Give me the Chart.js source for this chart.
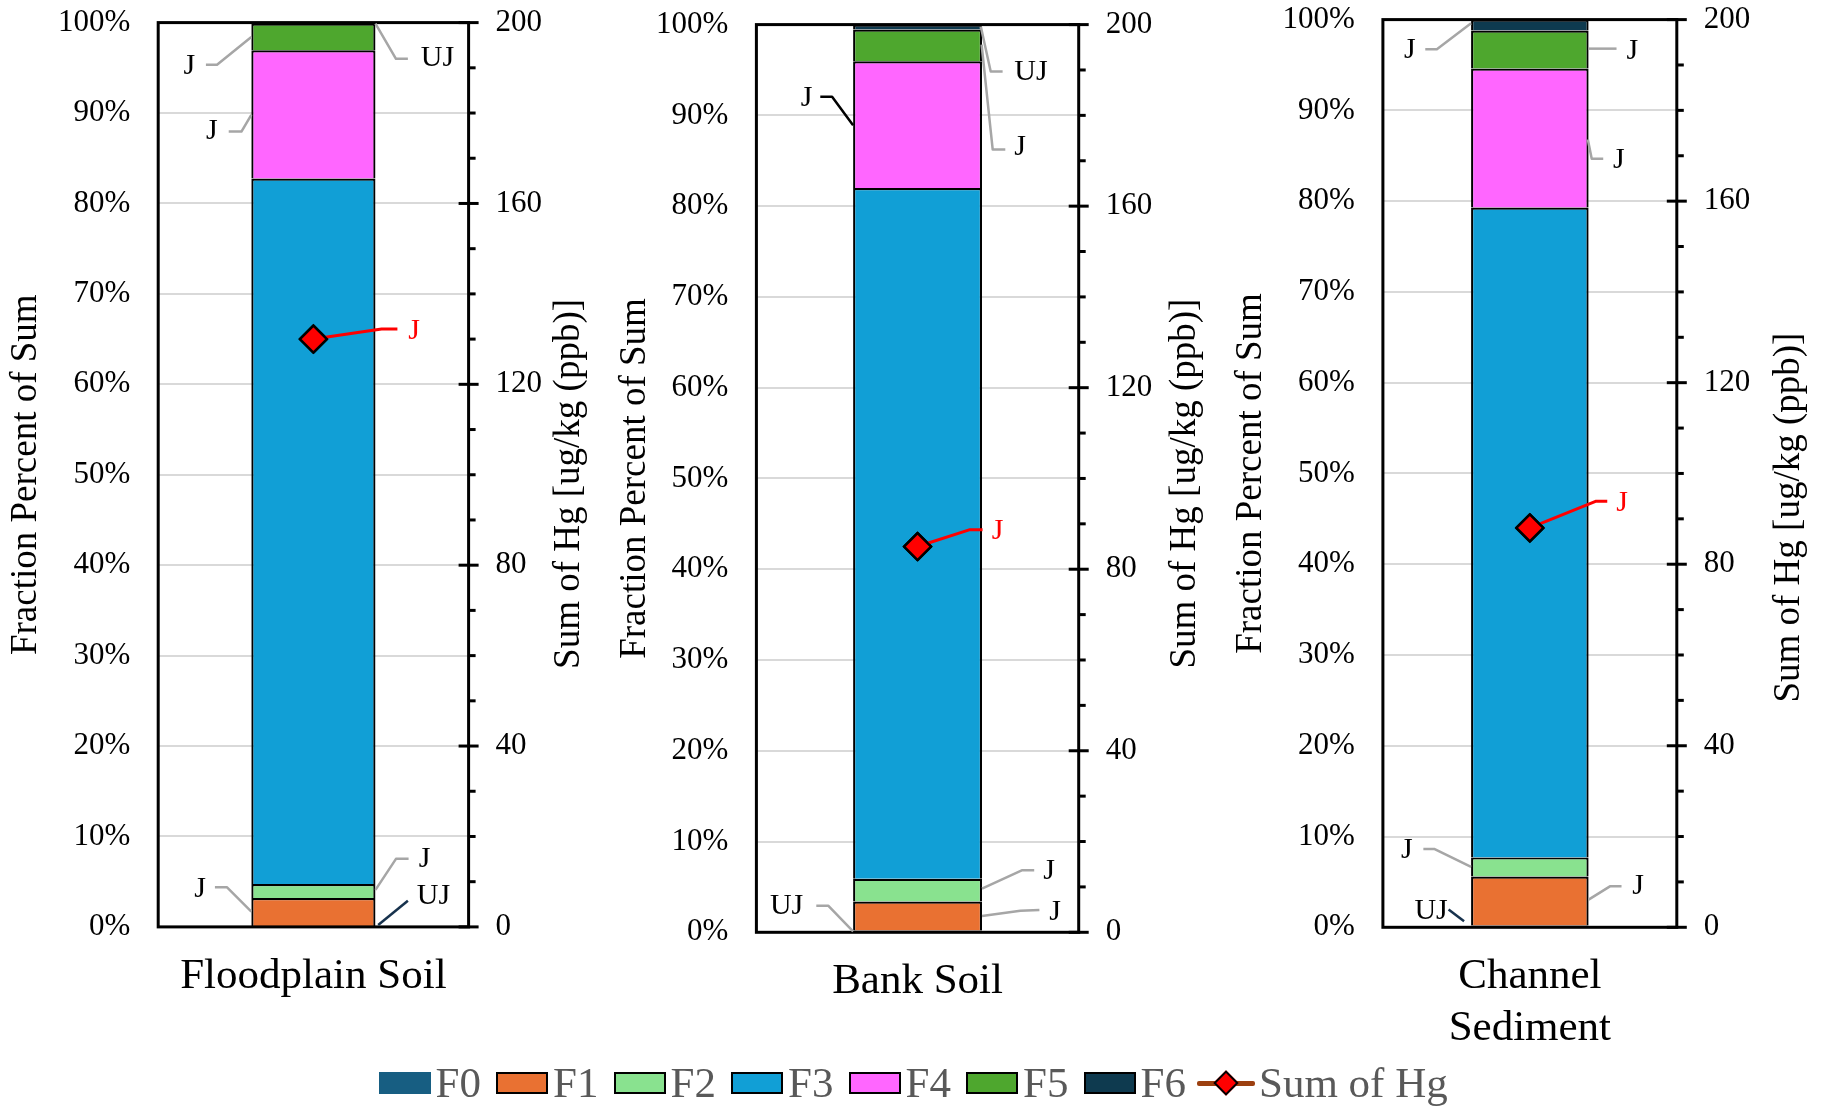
<!DOCTYPE html>
<html>
<head>
<meta charset="utf-8">
<script src="https://cdn.jsdelivr.net/npm/chart.js@4.4.1/dist/chart.umd.min.js"></script>
<style>
html,body{margin:0;padding:0;background:#fff;width:1828px;height:1111px;overflow:hidden;position:relative;}
canvas.panel{position:absolute;top:0;}
#legend{position:absolute;left:0;top:0;width:1828px;height:1111px;font-family:'Liberation Serif','Times New Roman',serif;pointer-events:none;}
.lg-item{position:absolute;top:1058px;height:50px;display:flex;align-items:center;}
.lg-box{display:inline-block;width:52px;height:22px;box-sizing:border-box;border:2px solid #000;margin-right:5px;}
.lg-text{font-size:43px;color:#595959;line-height:50px;white-space:nowrap;}
.lg-line{position:relative;width:58px;height:22px;margin-right:4px;}
.lg-line .bar{position:absolute;left:0;top:8.5px;width:58px;height:5px;background:#9C4010;border-radius:2px;}
.lg-line .dia{position:absolute;left:20px;top:2px;width:14px;height:14px;background:#FF0000;border:2.5px solid #000;transform:rotate(45deg);}
</style>
</head>
<body>
<canvas id="c0" class="panel" width="610" height="1100" style="left:0px"></canvas>
<canvas id="c1" class="panel" width="610" height="1100" style="left:610px"></canvas>
<canvas id="c2" class="panel" width="608" height="1100" style="left:1220px"></canvas>
<div id="legend"></div>
<script>
// ---------------- data ----------------
const categories = ['Floodplain Soil', 'Bank Soil', ['Channel', 'Sediment']];
const fractionNames = ['F0', 'F1', 'F2', 'F3', 'F4', 'F5', 'F6'];
const F0 = [0.1, 0.2, 0.2];
const F1 = [3.1, 3.2, 5.4];
const F2 = [1.55, 2.5, 2.1];
const F3 = [78.0, 76.1, 71.6];
const F4 = [14.2, 13.95, 15.3];
const F5 = [2.95, 3.5, 4.2];
const F6 = [0.1, 0.55, 1.2];
const sumHg = [130, 85, 88];
const sumLabel = 'Sum of Hg';
const leftTitle = 'Fraction Percent of Sum';
const rightTitle = 'Sum of Hg [ug/kg (ppb)]';
const pctTicks = [0, 10, 20, 30, 40, 50, 60, 70, 80, 90, 100];
const hgTicks = [0, 40, 80, 120, 160, 200];

const fractionValues = [F0, F1, F2, F3, F4, F5, F6];
const fractionColors = ['#175E82', '#E97132', '#89E28F', '#119FD6', '#FF66FF', '#4EA72E', '#0E3A4F'];
const FONT = "'Liberation Serif', 'Times New Roman', serif";
const GRAY = '#A6A6A6';

// qualifier call-outs (anchored by data value; offsets in px)
const qualifiers = [
  [
    {text:'J', side:'left', pct:98.4, path:[[-34.3,27.7],[-45.4,27.7]], label:[-62,29]},
    {text:'UJ', side:'right', pct:99.9, path:[[20.5,35.3],[32.4,35.3]], label:[62,35]},
    {text:'J', side:'left', pct:89.8, path:[[-9.9,16.7],[-22.6,16.7]], label:[-39.4,16.7]},
    {text:'J', side:'point', color:'#FF0000', line:'#FF0000', path:[[68.2,-10],[84,-10]], label:[100.6,-8.3]},
    {text:'J', side:'right', pct:4.1, path:[[20.5,-31],[33.1,-31]], label:[49,-31]},
    {text:'UJ', side:'right', pct:0.2, line:'#17324D', start:[2.7,0], path:[[32.4,-24.3]], label:[58,-29]},
    {text:'J', side:'left', pct:1.7, path:[[-24.5,-24.4],[-36.4,-24.4]], label:[-51.3,-22.7]}
  ],
  [
    {text:'J', side:'left', pct:88.9, line:'#000000', path:[[-21,-28.7],[-32.8,-28.7]], label:[-46.5,-27.3]},
    {text:'UJ', side:'right', pct:99.8, start:[-1.2,0], path:[[8.7,45],[20.6,45]], label:[49,45.8]},
    {text:'J', side:'right', pct:97.8, start:[-0.4,0], path:[[10.7,105],[23.3,105]], label:[38,103]},
    {text:'J', side:'right', pct:4.8, path:[[40.3,-18.6],[52.2,-18.6]], label:[67,-17.3]},
    {text:'J', side:'right', pct:1.8, path:[[38.4,-5.3],[57.4,-6]], label:[73,-4.3]},
    {text:'UJ', side:'left', pct:0.1, path:[[-24.9,-25.7],[-36.8,-25.7]], label:[-66.5,-25.7]},
    {text:'J', side:'point', color:'#FF0000', line:'#FF0000', path:[[51.6,-16.7],[65,-16.7]], label:[80,-15]}
  ],
  [
    {text:'J', side:'left', pct:99.6, path:[[-34.2,26],[-45.8,26]], label:[-61.3,27]},
    {text:'J', side:'right', pct:96.8, path:[[27.9,0]], label:[43.6,2]},
    {text:'J', side:'right', pct:86.8, start:[-0.8,0], path:[[3.1,19.3],[14.6,19.3]], label:[30.1,20.7]},
    {text:'J', side:'left', pct:6.65, path:[[-36.9,-18],[-47.7,-18]], label:[-64.3,-16.6]},
    {text:'J', side:'right', pct:3.05, path:[[21.3,-13.3],[32.9,-13.3]], label:[49.4,-13.3]},
    {text:'UJ', side:'left', pct:0.66, line:'#17324D', start:[-7,0], path:[[-22.5,-11.7]], label:[-40,-10]},
    {text:'J', side:'point', color:'#FF0000', line:'#FF0000', path:[[65.7,-26.6],[77.4,-26.6]], label:[92.2,-25]}
  ]
];

// ---------------- layout ----------------
const panels = [
  {areaTop:22.7, areaBottom:927,   yW:158.2, y1W:141.4, xH:113, yTitlePad:3.8, y1TitleDx:100.4, y1TitleY:484},
  {areaTop:25,   areaBottom:932.7, yW:146.4, y1W:141.3, xH:113, yTitlePad:3.2, y1TitleDx:106.9, y1TitleY:484},
  {areaTop:20,   areaBottom:927.7, yW:162.9, y1W:151.2, xH:113, yTitlePad:8.8, y1TitleDx:112.7, y1TitleY:518}
];

Chart.defaults.font.family = FONT;
Chart.defaults.color = '#000000';

const overlay = {
  id: 'overlay',
  afterDatasetsDraw(chart, args, opts) {
    const {ctx, chartArea: a, scales} = chart;
    const p = opts.panel;
    const shift = p.shift || 0;
    ctx.save();
    // plot frame
    ctx.lineWidth = 3;
    ctx.strokeStyle = '#000';
    ctx.strokeRect(a.left, a.top, a.right - a.left, a.bottom - a.top);
    // secondary axis tick marks
    const y1 = scales.y1;
    y1.ticks.forEach(t => {
      const py = y1.getPixelForValue(t.value);
      const major = hgTicks.includes(t.value);
      ctx.beginPath();
      ctx.moveTo(a.right - (major ? 10 : 0), py);
      ctx.lineTo(a.right + (major ? 10 : 7), py);
      ctx.stroke();
    });
    // qualifier call-outs
    const bar = chart.getDatasetMeta(0).data[0];
    const pt = chart.getDatasetMeta(fractionNames.length).data[0];
    ctx.lineCap = 'butt';
    ctx.lineJoin = 'round';
    opts.notes.forEach(n => {
      let ax, ay;
      if (n.side === 'point') { ax = pt.x; ay = pt.y; }
      else {
        ax = n.side === 'left' ? bar.x - bar.width / 2 : bar.x + bar.width / 2;
        ay = scales.y.getPixelForValue(n.pct);
      }
      const s = n.start || [0, 0];
      ctx.beginPath();
      ctx.moveTo(ax + s[0], ay + s[1]);
      n.path.forEach(([dx, dy]) => ctx.lineTo(ax + dx, ay + dy));
      ctx.strokeStyle = n.line || GRAY;
      ctx.lineWidth = n.side === 'point' ? 3 : 2.5;
      ctx.stroke();
      ctx.fillStyle = n.color || '#000';
      ctx.font = '30px ' + FONT;
      ctx.textAlign = 'center';
      ctx.textBaseline = 'middle';
      ctx.fillText(n.text, ax + n.label[0], ay + n.label[1]);
    });
    // keep the marker on top of its call-out line
    pt.draw(ctx, a);
    // secondary axis title (reads bottom to top)
    ctx.translate(a.right + p.y1TitleDx, p.y1TitleY - shift);
    ctx.rotate(-Math.PI / 2);
    ctx.fillStyle = '#000';
    ctx.font = '37px ' + FONT;
    ctx.textAlign = 'center';
    ctx.textBaseline = 'middle';
    ctx.fillText(rightTitle, 0, 0);
    ctx.restore();
  }
};

const charts = panels.map((p, i) => {
  const datasets = fractionNames.map((name, k) => ({
    type: 'bar',
    label: name,
    data: [fractionValues[k][i]],
    backgroundColor: fractionColors[k],
    borderColor: '#000000',
    borderWidth: 2.2,
    borderSkipped: 'start',
    yAxisID: 'y',
    barPercentage: 0.4,
    categoryPercentage: 1,
    order: 1
  }));
  datasets.push({
    type: 'line',
    label: sumLabel,
    data: [sumHg[i]],
    yAxisID: 'y1',
    showLine: false,
    borderColor: '#9C4010',
    pointStyle: 'rectRot',
    pointRadius: 13.5,
    pointBackgroundColor: '#FF0000',
    pointBorderColor: '#000000',
    pointBorderWidth: 2.5,
    order: 0
  });
  return new Chart(document.getElementById('c' + i), {
    type: 'bar',
    data: {labels: [categories[i]], datasets},
    plugins: [overlay],
    options: {
      responsive: false,
      animation: false,
      devicePixelRatio: 1,
      layout: {padding: 0},
      plugins: {
        legend: {display: false},
        tooltip: {enabled: false},
        overlay: {panel: p, notes: qualifiers[i]}
      },
      scales: {
        x: {
          stacked: true,
          grid: {display: false, drawTicks: false},
          border: {display: false},
          ticks: {font: {size: 43}, padding: 24, color: '#000'},
          afterFit: s => { s.height = p.xH; }
        },
        y: {
          position: 'left',
          stacked: true,
          min: 0, max: 100,
          grid: {color: '#D9D9D9', lineWidth: 2, drawTicks: false},
          border: {display: false},
          ticks: {
            stepSize: 10, autoSkip: false, padding: 28, font: {size: 31}, color: '#000',
            callback: v => pctTicks.includes(v) ? v + '%' : ''
          },
          title: {display: true, text: leftTitle, font: {size: 37}, color: '#000', padding: {top: p.yTitlePad, bottom: 0}},
          afterFit: s => { s.width = p.yW; }
        },
        y1: {
          position: 'right',
          min: 0, max: 200,
          grid: {display: false, drawTicks: false},
          border: {display: false},
          ticks: {
            stepSize: 10, autoSkip: false, padding: 27, font: {size: 31}, color: '#000',
            callback: v => hgTicks.includes(v) ? String(v) : ''
          },
          afterFit: s => { s.width = p.y1W; }
        }
      }
    }
  });
});

// place each canvas so its plot area lands where the reference has it
charts.forEach((ch, i) => {
  const p = panels[i];
  for (let pass = 0; pass < 3; pass++) {
    const shift = p.areaTop - ch.chartArea.top;
    p.shift = shift;
    ch.canvas.style.top = shift + 'px';
    const bottomOnPage = shift + ch.chartArea.bottom;
    const diff = bottomOnPage - p.areaBottom;
    if (Math.abs(diff) < 0.05 && pass > 0) break;
    p.xH += diff;
    ch.update('none');
  }
});

// ---------------- legend ----------------
const legendEl = document.getElementById('legend');
fractionNames.forEach((name, k) => {
  const it = document.createElement('div');
  it.className = 'lg-item';
  it.style.left = (378.5 + k * 117.5) + 'px';
  const box = document.createElement('span');
  box.className = 'lg-box';
  box.style.background = fractionColors[k];
  if (k === 0) box.style.border = 'none';
  const tx = document.createElement('span');
  tx.className = 'lg-text';
  tx.textContent = name;
  it.appendChild(box);
  it.appendChild(tx);
  legendEl.appendChild(it);
});
{
  const it = document.createElement('div');
  it.className = 'lg-item';
  it.style.left = '1197px';
  const ln = document.createElement('span');
  ln.className = 'lg-line';
  ln.innerHTML = '<span class="bar"></span><span class="dia"></span>';
  const tx = document.createElement('span');
  tx.className = 'lg-text';
  tx.textContent = sumLabel;
  it.appendChild(ln);
  it.appendChild(tx);
  legendEl.appendChild(it);
}
</script>
</body>
</html>
